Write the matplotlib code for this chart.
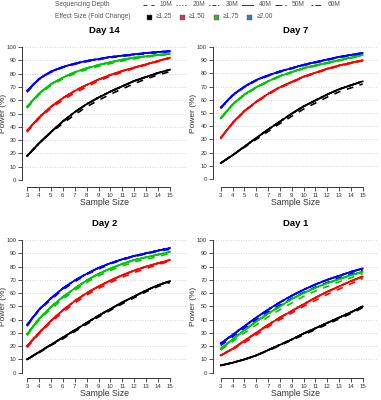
import matplotlib
matplotlib.use('Agg')
import matplotlib.pyplot as plt
from matplotlib.lines import Line2D
from matplotlib.patches import Rectangle

plt.rcParams['font.family'] = ['Liberation Sans', 'DejaVu Sans']

W, H = 381, 400

sample_size = list(range(3, 16))
depths = ['10M', '20M', '30M', '40M', '50M', '60M']
effects = ['\u22651.25', '\u22651.50', '\u22651.75', '\u22652.00']
line_colors = ['black', 'red', '#00c800', 'blue']
box_colors = ['black', '#c83a5c', '#48a844', '#3a78c2']

# power (%) per effect size: deeper runs (20M-60M overlap) and 10M (dashed)
day14_deep = [
    [18, 27.5, 36, 44, 51, 57, 62, 66.5, 70.5, 74.5, 77.5, 80.5, 83],
    [37, 47, 55, 61.5, 67, 71.5, 75.5, 79, 82, 84.5, 87, 89.5, 92],
    [55, 65, 72, 77, 81, 84, 86.5, 88.5, 90.5, 92, 93, 94, 95],
    [67, 76, 81.5, 85, 87.5, 89.5, 91, 92.5, 93.5, 94.5, 95.5, 96.2, 97],
]
day14_10m = [
    [18, 27.5, 35.5, 42.5, 49, 55, 60, 64.5, 68.5, 72.5, 76, 79, 81.5],
    [36, 46, 54, 60, 65.5, 70, 74.5, 78, 81, 84, 86.5, 89, 91.5],
    [54, 64, 71, 76, 80, 83, 85.5, 87.5, 89.5, 91, 92.5, 93.5, 94.5],
    [66, 75.5, 81, 84.5, 87, 89, 90.5, 92, 93, 94, 95, 95.8, 96.5],
]
day7_deep = [
    [12, 18, 24.5, 31, 37.5, 43.5, 49.5, 55, 59.5, 64, 68, 71, 74],
    [31, 42.5, 51.5, 58.5, 64.5, 69.5, 73.5, 77.5, 80.5, 83.5, 86, 88, 90],
    [46, 56.5, 64, 69.5, 74, 78, 81, 84, 86, 88, 90, 92, 94],
    [54, 63.5, 70, 75, 78.5, 81.5, 84, 86.5, 88.5, 90.5, 92.5, 94, 95.5],
]
day7_10m = [
    [12, 18, 24, 30, 36, 42, 47.5, 53, 57.5, 62, 66, 69, 72],
    [31, 42, 51, 58, 64, 69, 73, 77, 80, 83, 85.5, 87.5, 89.5],
    [45.5, 56, 63.5, 69, 73.5, 77.5, 80.5, 83.5, 85.5, 87.5, 89.5, 91.5, 93.5],
    [53.5, 63, 69.5, 74.5, 78, 81, 83.5, 86, 88, 90, 92, 93.5, 95],
]
day2_deep = [
    [10, 15.5, 21, 26.5, 32, 37.5, 43, 48, 53, 57.5, 62, 66, 69],
    [20, 30, 39, 47, 54, 60, 65, 69.5, 73.5, 77, 80, 82.5, 85],
    [29, 40.5, 49.5, 57, 63.5, 69.5, 74.5, 78.5, 82, 85, 87, 89, 91],
    [36, 47.5, 56, 63.5, 69.5, 74.5, 79, 82.5, 85.5, 88, 90, 92, 94],
]
day2_10m = [
    [10, 15, 20.5, 25.5, 31, 36.5, 42, 47, 52, 56.5, 61, 65, 68],
    [19, 29, 38, 45.5, 52.5, 58.5, 63.5, 68, 72, 75.5, 78.5, 81.5, 84],
    [28, 39.5, 48, 55.5, 62, 68, 73, 77, 80.5, 83.5, 85.5, 87.5, 90],
    [35, 47, 55, 62.5, 68.5, 74, 78, 82, 85, 87.5, 89.5, 91.5, 93],
]
day1_deep = [
    [5.5, 7.5, 10, 13, 17, 21, 25, 29.5, 33.5, 37.5, 41.5, 45.5, 50],
    [13, 18, 24, 30, 36, 41.5, 46.5, 51.5, 56.5, 61, 65, 69, 72.5],
    [18, 25, 32, 38.5, 44.5, 50, 55.5, 60, 64, 67.5, 70.5, 73.5, 76],
    [22, 28.5, 35, 41.5, 47.5, 53, 58, 62.5, 66.5, 70, 73, 76, 78.5],
]
day1_10m = [
    [5.5, 7.5, 10, 13, 16.5, 20.5, 24.5, 28.5, 32.5, 36.5, 40.5, 44.5, 49],
    [13, 17.5, 22.5, 28.5, 34.5, 40, 45, 50, 54.5, 59, 63, 67, 71],
    [17, 23.5, 30, 36, 42, 47.5, 52.5, 57.5, 61.5, 65, 68.5, 71.5, 74.5],
    [20.5, 27, 33.5, 40, 46, 51, 56, 60.5, 64.5, 68, 71.5, 74.5, 77],
]

panels = [
    ('Day 14', day14_deep, day14_10m),
    ('Day 7', day7_deep, day7_10m),
    ('Day 2', day2_deep, day2_10m),
    ('Day 1', day1_deep, day1_10m),
]

# pixel geometry: spine x, x of n=3, x of n=15, right edge, y of 0, y of 100, x-axis y, ylabel x
geom = [
    (22, 27, 170, 187, 180, 47, 187, 6.5),
    (212.7, 220.7, 362.7, 378, 179, 47, 187, 197),
    (22, 27, 170, 187, 372.7, 240, 378, 6.5),
    (212.7, 220.7, 362.7, 378, 372.7, 240, 378, 197),
]

depth_styles = {
    '10M': (0, (4, 4)),
    '20M': (0, (1, 2)),
    '30M': (0, (1, 2, 4, 2)),
    '40M': '-',
    '50M': (0, (7, 3)),
    '60M': (0, (2, 2, 6, 2)),
}

fig = plt.figure(figsize=(W / 100, H / 100), dpi=100)

for (title, deep, low), (sx, x3, x15, rx, y0, y100, ay, lx) in zip(panels, geom):
    px_x = (x15 - x3) / 12.0
    px_y = (y0 - y100) / 100.0
    top = y100 - 3
    ax = fig.add_axes([sx / W, 1 - ay / H, (rx - sx) / W, (ay - top) / H])
    ax.set_xlim(3 - (x3 - sx) / px_x, 3 + (rx - x3) / px_x)
    ax.set_ylim(-(ay - y0) / px_y, 100 + (y100 - top) / px_y)
    for g in range(10, 101, 10):
        ax.axhline(g, color='#c8c8c8', lw=0.6, ls=(0, (1, 2)), zorder=0)
    for k in range(4):
        for d in depths:
            vals = low[k] if d == '10M' else deep[k]
            ax.plot(sample_size, vals, color=line_colors[k], lw=1.2,
                    ls=depth_styles[d], zorder=2 if d == '40M' else 1)
    for s in ['top', 'right']:
        ax.spines[s].set_visible(False)
    ax.spines['left'].set_bounds(0, 100)
    ax.spines['bottom'].set_bounds(3, 15)
    for s in ['left', 'bottom']:
        ax.spines[s].set_linewidth(0.7)
        ax.spines[s].set_color('#333333')
    ax.set_xticks(sample_size)
    ax.set_yticks(range(0, 101, 10))
    ax.tick_params(length=3, width=0.6, labelsize=4.3, pad=1, colors='#333333')
    ax.set_xlabel('Sample Size', fontsize=6.3, labelpad=0.5, color='#333333')
    ax.set_ylabel('Power (%)', fontsize=6, color='#333333')
    ax.yaxis.set_label_coords((lx - sx) / (rx - sx), (ay - (y0 + y100) / 2) / (ay - top))
    ax.set_title(title, fontsize=6.8, fontweight='bold', pad=8)

# legend rows at the top
fig.text(55 / W, 1 - 5 / H, 'Sequencing Depth', fontsize=4.8, color='#555555', va='center')
fig.text(55 / W, 1 - 17 / H, 'Effect Size (Fold Change)', fontsize=4.8, color='#555555', va='center')
leg_x = [143, 176, 209, 242, 275, 311]
for lx, d in zip(leg_x, depths):
    fig.add_artist(Line2D([lx / W, (lx + 11) / W], [1 - 4.5 / H, 1 - 4.5 / H],
                          color='#333333', lw=0.7, ls=depth_styles[d]))
    fig.text((lx + 17) / W, 1 - 5 / H, d, fontsize=4.8, color='#555555', va='center')
box_x = [149, 182, 216, 250]
for bx, e, c in zip(box_x, effects, box_colors):
    fig.add_artist(Rectangle(((bx - 2.5) / W, 1 - 19.5 / H), 5 / W, 5 / H,
                             facecolor=c, edgecolor='#555555', lw=0.3))
    fig.text((bx + 7) / W, 1 - 17 / H, e, fontsize=4.8, color='#555555', va='center')

fig.savefig('out.png', dpi=100)
